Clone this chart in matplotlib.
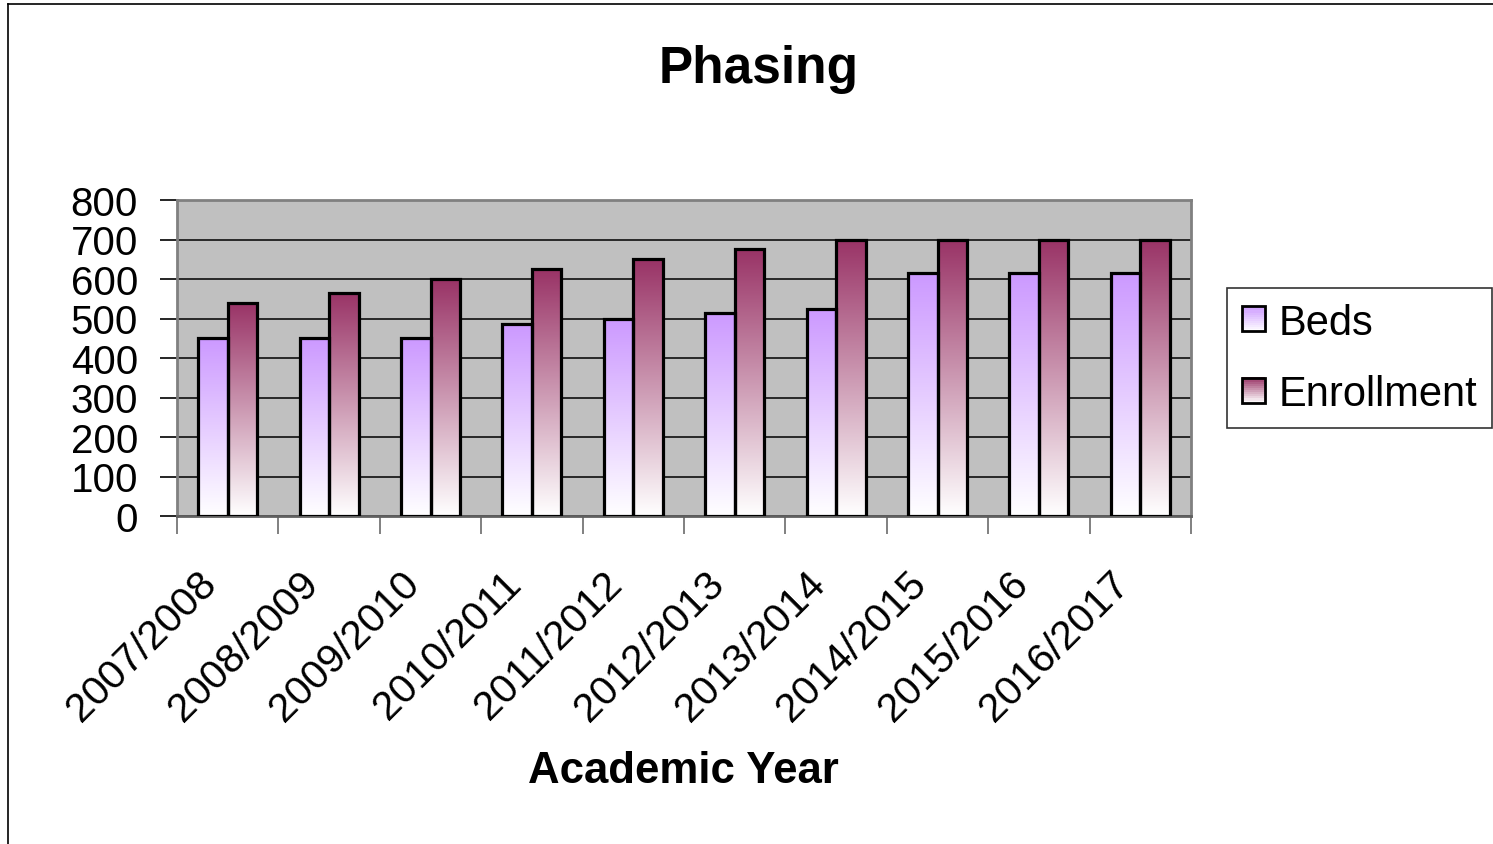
import numpy as np
import matplotlib
matplotlib.use("Agg")
import matplotlib.pyplot as plt
import matplotlib.transforms as mtransforms
from matplotlib.patches import Rectangle
from matplotlib.legend_handler import HandlerBase
from matplotlib.lines import Line2D
from matplotlib.colors import to_rgb

plt.rcParams["font.family"] = ["Liberation Sans", "DejaVu Sans"]

years = ["2007/2008", "2008/2009", "2009/2010", "2010/2011", "2011/2012",
         "2012/2013", "2013/2014", "2014/2015", "2015/2016", "2016/2017"]
beds = [450, 450, 450, 485, 500, 515, 525, 615, 615, 615]
enrollment = [540, 565, 600, 625, 650, 675, 700, 700, 700, 700]
series_names = ["Beds", "Enrollment"]
series_colors = ["#CC99FF", "#993366"]
yticks = [0, 100, 200, 300, 400, 500, 600, 700, 800]

W, H, DPI = 1493, 845, 100
fig = plt.figure(figsize=(W / DPI, H / DPI), dpi=DPI)

# outer frame of the chart
fig.add_artist(Line2D([8 / W, 1], [1 - 5 / H, 1 - 5 / H], color="black", lw=1.2,
                      transform=fig.transFigure))
fig.add_artist(Line2D([8 / W, 8 / W], [0, 1 - 5 / H], color="black", lw=1.2,
                      transform=fig.transFigure))

ax = fig.add_axes([177 / W, 1 - 517 / H, (1191 - 177) / W, (517 - 201) / H])
ax.set_facecolor("#C0C0C0")


def gradient_image(color, n=256):
    top = np.array(to_rgb(color))
    t = np.linspace(0, 1, n)[:, None]  # 0 bottom -> 1 top
    rgb = (1 - t) * np.ones(3) + t * top
    return rgb[:, None, :]


bar_w = 0.29
x = np.arange(len(years))
for vals, color, off in [(beds, series_colors[0], -bar_w / 2),
                         (enrollment, series_colors[1], bar_w / 2)]:
    img = gradient_image(color)
    for xi, v in zip(x, vals):
        x0 = xi + off - bar_w / 2
        ax.imshow(img, extent=[x0, x0 + bar_w, 0, v], origin="lower",
                  aspect="auto", zorder=2, interpolation="bilinear")
        ax.add_patch(Rectangle((x0, 0), bar_w, v, facecolor="none",
                               edgecolor="black", lw=2.3, zorder=3))

ax.set_xlim(-0.5, len(years) - 0.5)
ax.set_ylim(0, 800)
ax.set_yticks(yticks)
ax.set_yticklabels([str(t) for t in yticks], fontsize=29)
ax.yaxis.grid(True, color="black", lw=1.1, zorder=1)
ax.set_axisbelow(True)
ax.tick_params(axis="y", length=12, width=1.2, color="black", pad=16)

# category boundaries carry tick marks, labels sit at the centres
ax.set_xticks(np.arange(-0.5, len(years), 1.0))
ax.set_xticklabels([])
ax.tick_params(axis="x", which="major", length=13, width=1.4, color="#808080")
ax.set_xticks(x, minor=True)
ax.set_xticklabels(years, minor=True, rotation=45, ha="right",
                   va="center", rotation_mode="anchor", fontsize=29.5)
ax.tick_params(axis="x", which="minor", length=0, pad=44)
shift = mtransforms.ScaledTranslation(-17 / DPI, 0, fig.dpi_scale_trans)
for lbl in ax.get_xticklabels(minor=True):
    lbl.set_transform(lbl.get_transform() + shift)

for s in ax.spines.values():
    s.set_color("#808080")
    s.set_linewidth(2)
ax.spines["bottom"].set_color("#606060")

fig.text(759 / W, 1 - 69 / H, "Phasing", ha="center", va="center",
         fontsize=37, fontweight="bold")
fig.text(683 / W, 1 - 772 / H, "Academic Year", ha="center", va="center",
         fontsize=31.5, fontweight="bold")


class GradientHandler(HandlerBase):
    def create_artists(self, legend, orig_handle, xdescent, ydescent,
                       width, height, fontsize, trans):
        color = orig_handle.get_facecolor()
        n = 12
        arts = []
        for i in range(n):
            t = (i + 0.5) / n
            c = (1 - t) * np.ones(3) + t * np.array(color[:3])
            arts.append(Rectangle((-xdescent, -ydescent + height * i / n),
                                  width, height / n + 0.3, facecolor=c,
                                  edgecolor="none", transform=trans))
        arts.append(Rectangle((-xdescent, -ydescent), width, height,
                              facecolor="none", edgecolor="black", lw=2,
                              transform=trans))
        return arts


handles = [Rectangle((0, 0), 1, 1, facecolor=c) for c in series_colors]
leg = fig.legend(handles, series_names, loc="upper left",
                 bbox_to_anchor=(1227 / W, 1 - 289 / H), borderaxespad=0,
                 fontsize=30, frameon=True, fancybox=False, edgecolor="black",
                 handler_map={Rectangle: GradientHandler()},
                 handlelength=0.55, handleheight=0.55, handletextpad=0.35,
                 borderpad=0.35, labelspacing=0.75)
leg.get_frame().set_linewidth(1.2)

fig.savefig("out.png", dpi=DPI)
